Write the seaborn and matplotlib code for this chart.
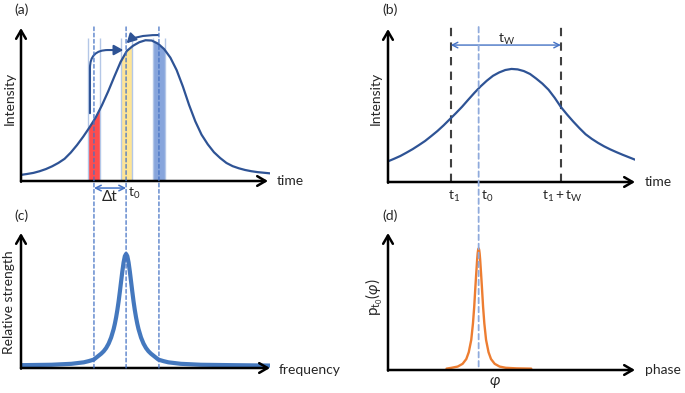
"""
펄스 세기 / 스펙트럼 / 위상 분포 개념도 (a)-(d) 재현 스크립트
"""
import seaborn as sns
import matplotlib.pyplot as plt
from matplotlib.patches import ConnectionPatch

sns.set_style('white')
plt.rcParams['font.family'] = ['Lato', 'DejaVu Sans']
plt.rcParams['mathtext.fontset'] = 'custom'
plt.rcParams['mathtext.rm'] = 'Lato'
plt.rcParams['mathtext.it'] = 'Lato:italic'

# (a) 펄스 세기
a_time = [0, 0.25, 0.5, 0.75, 1, 1.25, 1.5, 1.75, 2, 2.25, 2.5, 2.75, 3, 3.25,
          3.5, 3.75, 4, 4.25, 4.5, 4.75, 5, 5.25, 5.5, 5.75, 6, 6.25, 6.5, 6.75,
          7, 7.25, 7.5, 7.75, 8, 8.25, 8.5, 8.75, 9, 9.25, 9.5, 9.75, 10]
a_intensity = [0.040, 0.046, 0.053, 0.064, 0.078, 0.096, 0.118, 0.145, 0.186,
               0.235, 0.290, 0.350, 0.415, 0.495, 0.585, 0.683, 0.778, 0.850,
               0.884, 0.907, 0.920, 0.918, 0.898, 0.862, 0.806, 0.725, 0.618,
               0.497, 0.390, 0.303, 0.240, 0.188, 0.150, 0.118, 0.097, 0.083,
               0.072, 0.064, 0.058, 0.054, 0.050]
band_left = [2.68, 4.00, 5.29]
band_right = [3.17, 4.47, 5.80]
band_colors = ['#FF4D4D', '#FFE596', '#87A5DC']
a_markers = [2.93, 4.22, 5.54]   # 파란 점선 (t0 - Δt, t0, t0 + Δt)

# (b) 펄스 세기와 측정 창
b_time = [0, 0.25, 0.5, 0.75, 1, 1.25, 1.5, 1.75, 2, 2.25, 2.5, 2.75, 3, 3.25,
          3.5, 3.75, 4, 4.25, 4.5, 4.75, 5, 5.25, 5.5, 5.75, 6, 6.25, 6.5, 6.75,
          7, 7.25, 7.5, 7.75, 8, 8.25, 8.5, 8.75, 9, 9.25, 9.5, 9.75, 10]
b_intensity = [0.135, 0.152, 0.170, 0.192, 0.215, 0.241, 0.268, 0.300, 0.333,
               0.370, 0.410, 0.450, 0.492, 0.538, 0.583, 0.625, 0.662, 0.694,
               0.716, 0.732, 0.739, 0.736, 0.725, 0.706, 0.676, 0.643, 0.603,
               0.550, 0.490, 0.441, 0.395, 0.352, 0.312, 0.282, 0.256, 0.233,
               0.213, 0.195, 0.178, 0.162, 0.146]
b_t1, b_t0, b_t1w = 2.54, 3.67, 7.0

# (c) 상대 세기 스펙트럼
c_freq = [0, 1.22, 2.02, 2.52, 2.72, 2.92, 3.07, 3.22, 3.32, 3.42, 3.52, 3.62,
          3.72, 3.77, 3.82, 3.87, 3.92, 3.97, 4.02, 4.07, 4.12, 4.17, 4.22,
          4.27, 4.32, 4.37, 4.42, 4.47, 4.52, 4.57, 4.62, 4.67, 4.72, 4.82, 4.92,
          5.02, 5.12, 5.22, 5.37, 5.52, 5.72, 5.92, 6.42, 7.22, 8.5, 10]
c_strength = [0.021, 0.024, 0.031, 0.042, 0.051, 0.062, 0.084, 0.106, 0.124,
              0.148, 0.181, 0.226, 0.288, 0.328, 0.375, 0.430, 0.493, 0.565,
              0.641, 0.716, 0.782, 0.828, 0.845,
              0.828, 0.782, 0.716, 0.641, 0.565, 0.493, 0.430, 0.375, 0.328,
              0.288, 0.226, 0.181, 0.148, 0.124, 0.106, 0.084, 0.062, 0.051,
              0.042, 0.031, 0.024, 0.021, 0.018]

# (d) 위상 분포
d_phase = [2.37, 2.57, 2.82, 3.02, 3.17, 3.27, 3.37, 3.44, 3.49, 3.54, 3.57,
           3.61, 3.63, 3.65, 3.67, 3.69, 3.71, 3.73, 3.77, 3.80, 3.85, 3.90,
           3.97, 4.07, 4.17, 4.32, 4.52, 4.77, 5.2, 5.8]
d_prob = [0.010, 0.016, 0.025, 0.045, 0.080, 0.130, 0.220, 0.340, 0.460, 0.612,
          0.698, 0.808, 0.851, 0.878, 0.888, 0.878, 0.851, 0.808, 0.698, 0.612,
          0.460, 0.340, 0.220, 0.130, 0.080, 0.045, 0.025, 0.016, 0.012, 0.010]

W, H = 685, 393
DARK = '#2E5395'
MID = '#4472C4'


def rect(l, t, r, b):
    return [l / W, 1 - b / H, (r - l) / W, (b - t) / H]


def px(x, y):
    return x / W, 1 - y / H


def axis_arrows(ax, xend):
    style = dict(arrowstyle='->,head_length=0.6,head_width=0.35', lw=1.8,
                 color='black', shrinkA=0, shrinkB=0)
    ax.annotate('', xy=(xend, 0), xytext=(0, 0), arrowprops=style,
                annotation_clip=False, zorder=5)
    ax.annotate('', xy=(0, 1), xytext=(0, -0.005), arrowprops=style,
                annotation_clip=False, zorder=5)


fig = plt.figure(figsize=(W / 100, H / 100), dpi=100)
ax_a = fig.add_axes(rect(21, 28, 270, 181))
ax_b = fig.add_axes(rect(388, 29, 635, 182))
ax_c = fig.add_axes(rect(21, 233, 270, 368))
ax_d = fig.add_axes(rect(388, 233, 635, 370))
for ax in (ax_a, ax_b, ax_c, ax_d):
    ax.set_xlim(0, 10)
    ax.set_ylim(0, 1)
    ax.axis('off')

# ---- (a) ----
area = ax_a.fill_between(a_time, 0, a_intensity, color='none', lw=0)
for l, r, c in zip(band_left, band_right, band_colors):
    span = ax_a.axvspan(l, r, color=c, lw=0, zorder=1)
    span.set_clip_path(area.get_paths()[0], ax_a.transData)
ax_a.vlines(band_left + band_right, 0, 0.933, color='#B4C7E7', lw=1, zorder=1.5)
sns.lineplot(x=a_time, y=a_intensity, ax=ax_a, color=DARK, linewidth=1.6, zorder=3)
axis_arrows(ax_a, 9.92)

head = '-|>,head_length=0.55,head_width=0.3'
ax_a.annotate('', xy=(4.11, 0.856), xytext=(2.77, 0.443),
              arrowprops=dict(arrowstyle=head, color=DARK, lw=1.5, shrinkA=0, shrinkB=0,
                              connectionstyle='angle,angleA=90,angleB=0,rad=18'))
ax_a.annotate('', xy=(4.24, 0.90), xytext=(5.51, 0.954),
              arrowprops=dict(arrowstyle=head, color=DARK, lw=1.5, shrinkA=0, shrinkB=0,
                              connectionstyle='angle3,angleA=0,angleB=45'))
ax_a.annotate('', xy=(a_markers[1], -0.046), xytext=(a_markers[0], -0.046),
              arrowprops=dict(arrowstyle='<->,head_length=0.4,head_width=0.2',
                              color=MID, lw=1.1, shrinkA=0, shrinkB=0),
              annotation_clip=False)

# ---- (c) ----
sns.lineplot(x=c_freq, y=c_strength, ax=ax_c, color='#4478BE', linewidth=3.0, zorder=3)
ax_c.get_lines()[-1].set_solid_joinstyle('round')
axis_arrows(ax_c, 10)

# 점선 (a)에서 (c)까지
for t in a_markers:
    fig.add_artist(ConnectionPatch(xyA=(t, 1.007), coordsA=ax_a.transData,
                                   xyB=(t, 0), coordsB=ax_c.transData,
                                   linestyle=(0, (3, 2)), color=MID, lw=0.9, zorder=2))

# ---- (b) ----
sns.lineplot(x=b_time, y=b_intensity, ax=ax_b, color=DARK, linewidth=1.6, zorder=3)
ax_b.vlines([b_t1, b_t1w], 0, 1.025, color='#404040', lw=1.5,
            linestyles=[(0, (4, 3))], clip_on=False, zorder=2)
ax_b.annotate('', xy=(b_t1w, 0.895), xytext=(b_t1, 0.895),
              arrowprops=dict(arrowstyle='<->,head_length=0.4,head_width=0.2',
                              color=MID, lw=1.0, shrinkA=0, shrinkB=0),
              annotation_clip=False)
axis_arrows(ax_b, 10)

# ---- (d) ----
sns.lineplot(x=d_phase, y=d_prob, ax=ax_d, color='#ED7D31', linewidth=1.7, zorder=3)
axis_arrows(ax_d, 10)
fig.add_artist(ConnectionPatch(xyA=(b_t0, 1.013), coordsA=ax_b.transData,
                               xyB=(b_t0, 0), coordsB=ax_d.transData,
                               linestyle=(0, (3, 2)), color='#8FAADC', lw=1.3, zorder=2))

# ---- 텍스트 ----
fs = 10
fig.text(*px(21.5, 9.5), '(a)', fontsize=fs, ha='center', va='center')
fig.text(*px(390, 9.5), '(b)', fontsize=fs, ha='center', va='center')
fig.text(*px(21.5, 216), '(c)', fontsize=fs, ha='center', va='center')
fig.text(*px(390.5, 216), '(d)', fontsize=fs, ha='center', va='center')
fig.text(*px(9.5, 98), 'Intensity', fontsize=fs, rotation=90, ha='center', va='center')
fig.text(*px(376, 98), 'Intensity', fontsize=fs, rotation=90, ha='center', va='center')
fig.text(*px(9.5, 302), 'Relative strength', fontsize=fs, rotation=90, ha='center', va='center')
fig.text(*px(374, 297), r'$\mathrm{p_{t_0}(}\varphi\mathrm{)}$', fontsize=fs + 1,
         rotation=90, ha='center', va='center')
fig.text(*px(277, 181), 'time', fontsize=fs, ha='left', va='center')
fig.text(*px(645, 182), 'time', fontsize=fs, ha='left', va='center')
fig.text(*px(279, 370), 'frequency', fontsize=fs, ha='left', va='center')
fig.text(*px(645, 370), 'phase', fontsize=fs, ha='left', va='center')
fig.text(*px(495, 383), r'$\varphi$', fontsize=fs + 1, ha='center', va='center')
fig.text(*px(102, 201), 'Δt', fontsize=fs + 1, ha='left', va='baseline')
fig.text(*px(128, 197), r'$\mathrm{t_0}$', fontsize=fs, ha='left', va='baseline')
fig.text(*px(448, 200), r'$\mathrm{t_1}$', fontsize=fs, ha='left', va='baseline')
fig.text(*px(481, 200), r'$\mathrm{t_0}$', fontsize=fs, ha='left', va='baseline')
fig.text(*px(542, 200), r'$\mathrm{t_1 + t_W}$', fontsize=fs, ha='left', va='baseline')
fig.text(*px(507, 39), r'$\mathrm{t_W}$', fontsize=fs, ha='center', va='center')

fig.savefig('out.png', dpi=100)
